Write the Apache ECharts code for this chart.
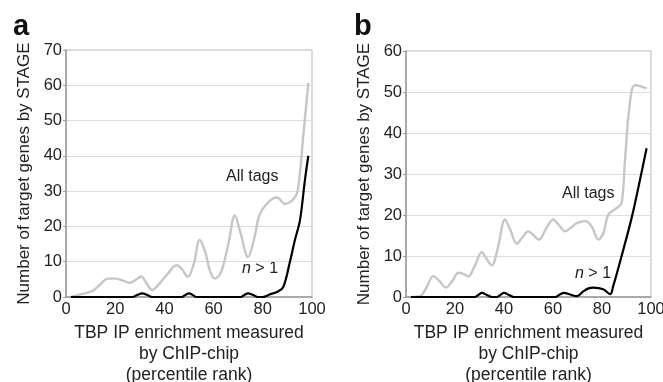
<!DOCTYPE html>
<html>
<head>
<meta charset="utf-8">
<script src="https://cdn.jsdelivr.net/npm/echarts@6/dist/echarts.min.js"></script>
<style>
  html, body { margin: 0; padding: 0; background: #fff; }
  #chart { width: 663px; height: 382px; }
</style>
</head>
<body>
<div id="chart"></div>
<script>
// percentile rank vs. number of target genes
const xTicks = [0, 20, 40, 60, 80, 100];

const allTagsA = [
  [2, 0], [5, 0.6], [8, 1.1], [11, 1.8], [14, 3.6], [17, 5.2], [20, 5.2], [23, 4.7],
  [26, 4.0], [28, 4.7], [30.5, 5.8], [33, 3.6], [35, 2.0], [38, 3.8], [41, 6.3],
  [45, 9.0], [47, 8.0], [49.5, 5.7], [52, 9.5], [54.3, 16.2], [56.5, 13], [58.5, 7.5],
  [60.5, 5.2], [63, 7], [66, 15], [68.6, 23.1], [71, 18], [74, 11.3], [76.5, 16.5],
  [78.8, 23.5], [82.9, 27.3], [85.8, 28.2], [89, 26.4], [93, 28.2], [94.4, 31],
  [96.5, 46], [98.5, 60.7]
];
const multiTagA = [
  [2, 0], [27, 0], [29, 0.6], [31, 1], [33, 0.6], [35, 0], [47, 0], [48.5, 0.6],
  [50, 1], [51.5, 0.6], [53, 0], [71, 0], [72.5, 0.6], [74, 1], [76, 0.6], [78, 0],
  [80, 0], [83, 0.8], [86, 1.5], [88.3, 2.8], [91, 9.9], [93, 16], [95.1, 21.7],
  [97.1, 33], [98.5, 40]
];

const allTagsB = [
  [2, 0], [5.7, 0.2], [8.5, 2.5], [11.1, 5.1], [13.5, 4], [16.3, 2.3], [19, 4],
  [21.4, 5.9], [23.5, 5.6], [25.4, 5], [28, 7.5], [30.9, 10.9], [33, 9.2], [35, 7.7],
  [37.5, 12], [40.4, 18.9], [42.5, 16.5], [45.2, 13], [47.5, 14.5], [49.9, 16],
  [54.3, 14], [57, 16.5], [60.1, 18.9], [62.5, 17.5], [64.9, 16], [67.5, 17],
  [69.7, 18], [73.1, 18.5], [75.8, 17.2], [78.5, 14], [80.5, 15.5], [82.6, 20.1],
  [86, 21.7], [88, 22.9], [89.4, 33.4], [91.2, 46.4], [93.5, 51.7], [98.2, 50.9]
];
const multiTagB = [
  [2, 0], [28, 0], [29.5, 0.5], [31, 1], [33, 0.5], [35, 0], [37, 0], [38.5, 0.5],
  [40, 1], [42, 0.5], [44, 0], [61, 0], [62.8, 0.6], [64.5, 1], [67, 0.6], [69.7, 0.2],
  [72, 1.2], [74.5, 2.1], [76.5, 2.3], [80.5, 1.9], [83.3, 0.7], [84.6, 2.7],
  [88, 10], [92.1, 19.3], [95.3, 28], [98.2, 36.3]
];

const FONT = "'Liberation Sans', Arial, sans-serif";
const xName = 'TBP IP enrichment measured\nby ChIP-chip\n(percentile rank)';
const yName = 'Number of target genes by STAGE';

function xAxisFor(gridIndex) {
  return {
    gridIndex: gridIndex,
    type: 'value',
    min: 0, max: 100, interval: 20,
    name: xName,
    nameLocation: 'middle',
    nameGap: 23,
    nameTextStyle: { fontFamily: FONT, fontSize: 17.5, color: '#222', lineHeight: 21 },
    axisLine: { show: true, lineStyle: { color: '#999', width: 1.5 } },
    axisTick: { show: false },
    axisLabel: { margin: 4, fontFamily: FONT, fontSize: 16.5, color: '#222' },
    splitLine: { show: false }
  };
}

function yAxisFor(gridIndex, max) {
  return {
    gridIndex: gridIndex,
    type: 'value',
    min: 0, max: max, interval: 10,
    name: yName,
    nameLocation: 'middle',
    nameGap: 33,
    nameTextStyle: { fontFamily: FONT, fontSize: 17, color: '#222' },
    axisLine: { show: true, lineStyle: { color: '#999', width: 1.5 } },
    axisTick: { show: true, length: 3, lineStyle: { color: '#999' } },
    axisLabel: { margin: 4, fontFamily: FONT, fontSize: 16.5, color: '#222' },
    splitLine: { show: true, lineStyle: { color: '#dcdcdc', width: 1 } }
  };
}

function lineSeries(idx, data, color, width, z) {
  return {
    type: 'line',
    xAxisIndex: idx,
    yAxisIndex: idx,
    data: data,
    smooth: 0.35,
    symbol: 'none',
    z: z,
    lineStyle: { color: color, width: width }
  };
}

const chart = echarts.init(document.getElementById('chart'), null, { renderer: 'canvas' });

const noteFont = "16px " + FONT;
const italicRich = { i: { fontStyle: 'italic', fontFamily: FONT, fontSize: 16, fill: '#222' } };

chart.setOption({
  animation: false,
  backgroundColor: '#fff',
  grid: [
    { left: 66, top: 50, width: 246, height: 247, outerBoundsMode: 'none', containLabel: false,
      show: true, borderColor: '#d0d0d0', borderWidth: 1.5 },
    { left: 406, top: 51, width: 245, height: 246, outerBoundsMode: 'none', containLabel: false,
      show: true, borderColor: '#d0d0d0', borderWidth: 1.5 }
  ],
  xAxis: [xAxisFor(0), xAxisFor(1)],
  yAxis: [yAxisFor(0, 70), yAxisFor(1, 60)],
  series: [
    lineSeries(0, allTagsA, '#c6c6c6', 2.4, 2),
    lineSeries(0, multiTagA, '#000', 2.2, 3),
    lineSeries(1, allTagsB, '#c6c6c6', 2.4, 2),
    lineSeries(1, multiTagB, '#000', 2.2, 3)
  ],
  graphic: [
    { type: 'text', left: 13, top: 12, style: { text: 'a', font: "bold 29px " + FONT, fill: '#111' } },
    { type: 'text', left: 354, top: 12, style: { text: 'b', font: "bold 29px " + FONT, fill: '#111' } },
    { type: 'text', left: 226, top: 169, style: { text: 'All tags', font: noteFont, fill: '#222' } },
    { type: 'text', left: 562, top: 186, style: { text: 'All tags', font: noteFont, fill: '#222' } },
    { type: 'text', left: 242, top: 261, style: { text: '{i|n} > 1', font: noteFont, fill: '#222', rich: italicRich } },
    { type: 'text', left: 575, top: 266, style: { text: '{i|n} > 1', font: noteFont, fill: '#222', rich: italicRich } }
  ]
});
</script>
</body>
</html>
